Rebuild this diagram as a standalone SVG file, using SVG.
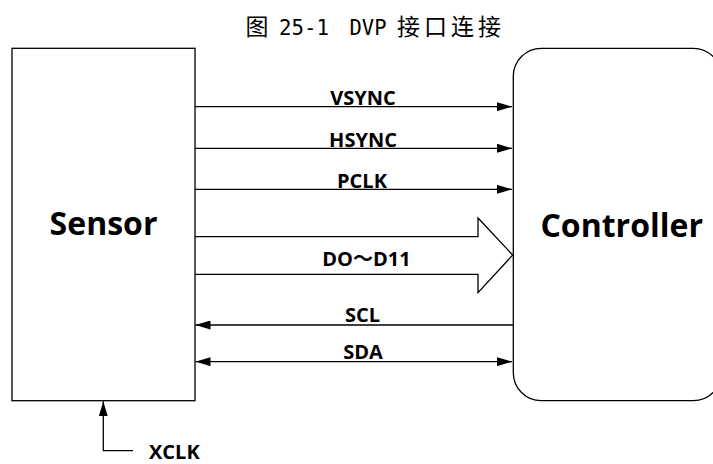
<svg xmlns="http://www.w3.org/2000/svg" width="713" height="464" viewBox="0 0 713 464">
<style>
.box{fill:#fff;stroke:#000;stroke-width:1.3}
.ln{stroke:#000;stroke-width:1.3;fill:none}
.lbl{font-family:"Open Sans","Liberation Sans","Noto Sans CJK SC",sans-serif;font-weight:bold;font-size:20px;text-anchor:middle;fill:#000}
.big{font-family:"Open Sans","Liberation Sans",sans-serif;font-weight:bold;font-size:32px;text-anchor:middle;fill:#000}
.title{font-family:"DejaVu Sans Mono","Liberation Mono","Noto Sans CJK SC",monospace;font-size:22px;fill:#000}
.cjk{font-family:"Noto Sans CJK SC",sans-serif;font-size:23px}
</style>
<defs>
<marker id="ah" viewBox="0 0 15 9" refX="15" refY="4.5" markerWidth="15" markerHeight="9" markerUnits="userSpaceOnUse" orient="auto-start-reverse">
<path d="M0,0 L15,4.5 L0,9 Z" fill="#000"/>
</marker>
</defs>
<rect width="713" height="464" fill="#fff"/>
<text class="title" y="35"><tspan class="cjk" x="245.5">图</tspan><tspan x="279" textLength="50" lengthAdjust="spacingAndGlyphs">25-1</tspan><tspan x="349.5" textLength="37" lengthAdjust="spacingAndGlyphs">DVP</tspan><tspan class="cjk" x="397" letter-spacing="4">接口连接</tspan></text>
<g id="sensor">
<rect class="box" x="12" y="48.3" width="183" height="352.4"/>
<text class="big" x="103.5" y="235">Sensor</text>
</g>
<g id="controller">
<rect class="box" x="513.3" y="48.3" width="208" height="352.4" rx="28" ry="28"/>
<text class="big" x="621.7" y="236.7">Controller</text>
</g>
<g id="connectors">
<line class="ln" x1="195" y1="106.7" x2="512" y2="106.7" marker-end="url(#ah)"/>
<line class="ln" x1="195" y1="148.3" x2="512" y2="148.3" marker-end="url(#ah)"/>
<line class="ln" x1="195" y1="189.3" x2="512" y2="189.3" marker-end="url(#ah)"/>
<path class="ln" d="M195,236.7 L478,236.7 L478,218 L512.7,255 L478,292.7 L478,274.3 L195,274.3" fill="#fff"/>
<line class="ln" x1="513.3" y1="325" x2="195.5" y2="325" marker-end="url(#ah)"/>
<line class="ln" x1="195.5" y1="361.7" x2="512" y2="361.7" marker-start="url(#ah)" marker-end="url(#ah)"/>
<path class="ln" d="M133,450.7 L103.3,450.7 L103.3,401.3" marker-end="url(#ah)"/>
</g>
<g id="labels">
<text class="lbl" x="363" y="105">VSYNC</text>
<text class="lbl" x="363" y="146.5">HSYNC</text>
<text class="lbl" x="362" y="187.5">PCLK</text>
<text class="lbl" x="366.5" y="266">DO～D11</text>
<text class="lbl" x="362.5" y="322">SCL</text>
<text class="lbl" x="363" y="359">SDA</text>
<text class="lbl" x="149" y="459" style="text-anchor:start">XCLK</text>
</g>
</svg>
